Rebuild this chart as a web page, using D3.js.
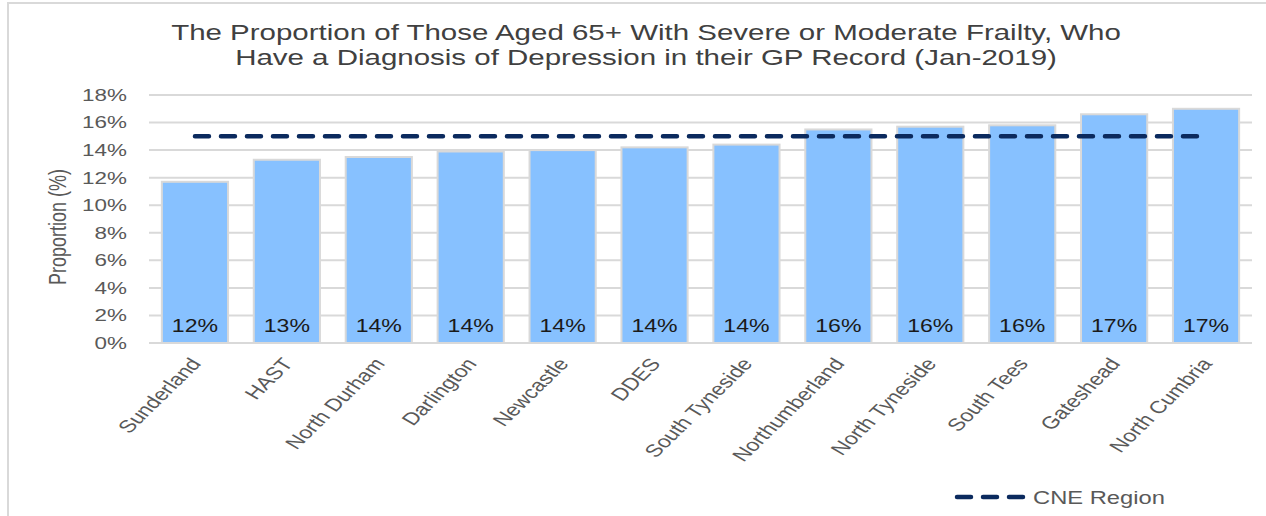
<!DOCTYPE html>
<html>
<head>
<meta charset="utf-8">
<script src="https://cdn.jsdelivr.net/npm/d3@7"></script>
<style>
  body { margin: 0; background: #fff; }
  svg { display: block; font-family: "Liberation Sans", Arial, sans-serif; }
</style>
</head>
<body>
<svg id="chart"></svg>
<script>
const areas = ["Sunderland", "HAST", "North Durham", "Darlington", "Newcastle", "DDES",
  "South Tyneside", "Northumberland", "North Tyneside", "South Tees", "Gateshead", "North Cumbria"];
const proportion = [11.7, 13.3, 13.5, 13.9, 14.0, 14.2, 14.4, 15.5, 15.7, 15.8, 16.6, 17.0];
const labels = ["12%", "13%", "14%", "14%", "14%", "14%", "14%", "16%", "16%", "16%", "17%", "17%"];
const cneRegion = [15, 15, 15, 15, 15, 15, 15, 15, 15, 15, 15, 15];
const yTicks = [0, 2, 4, 6, 8, 10, 12, 14, 16, 18];

const width = 1266;
const height = 516;
const S = 1.32; // the original picture is stretched sideways, so text is too
const svg = d3.select("#chart").attr("width", width).attr("height", height);

// outer frame (runs off the right/bottom edges)
svg.append("rect")
  .attr("x", 8).attr("y", 3)
  .attr("width", width + 10).attr("height", height + 10)
  .attr("fill", "none").attr("stroke", "#d9d9d9").attr("stroke-width", 2);

const xScale = d3.scaleBand()
  .domain(areas)
  .range([149, 1252])
  .paddingInner(0.28)
  .paddingOuter(0.14);

const yScale = d3.scaleLinear()
  .domain([0, 18])
  .range([343, 95]);

// gridlines
svg.append("g")
  .selectAll("line")
  .data(yTicks)
  .enter()
  .append("line")
  .attr("x1", 149).attr("x2", 1252)
  .attr("y1", (d) => yScale(d)).attr("y2", (d) => yScale(d))
  .attr("stroke", "#d9d9d9")
  .attr("stroke-width", 2);

// y axis labels
const yAxis = d3.axisLeft(yScale).tickValues(yTicks).tickFormat((d) => d + "%").tickSize(0);
const yg = svg.append("g").attr("transform", "translate(149,0)").call(yAxis);
yg.select(".domain").remove();
yg.selectAll("text")
  .attr("x", -22 / S)
  .attr("transform", "scale(" + S + ",1)")
  .attr("font-size", 17)
  .attr("fill", "#595959")
  .attr("font-family", "Liberation Sans, Arial, sans-serif");

// bars
svg.append("g")
  .selectAll("rect")
  .data(areas)
  .enter()
  .append("rect")
  .attr("x", (d) => xScale(d))
  .attr("y", (d, i) => yScale(proportion[i]))
  .attr("width", xScale.bandwidth())
  .attr("height", (d, i) => yScale(0) - yScale(proportion[i]))
  .attr("fill", "#87c1ff")
  .attr("stroke", "#d9d9d9")
  .attr("stroke-width", 2);

// bar value labels
svg.append("g")
  .selectAll("text")
  .data(areas)
  .enter()
  .append("text")
  .attr("transform", (d) => "translate(" + (xScale(d) + xScale.bandwidth() / 2) + ",332) scale(" + S + ",1)")
  .attr("text-anchor", "middle")
  .attr("font-size", 17.5)
  .attr("fill", "#1a1a1a")
  .text((d, i) => labels[i]);

// x axis baseline
svg.append("line")
  .attr("x1", 149).attr("x2", 1252)
  .attr("y1", yScale(0)).attr("y2", yScale(0))
  .attr("stroke", "#d9d9d9").attr("stroke-width", 2);

// x labels
const xAxis = d3.axisBottom(xScale).tickSize(0).tickPadding(0);
const xg = svg.append("g").attr("transform", "translate(0," + (yScale(0) + 1) + ")").call(xAxis);
xg.select(".domain").remove();
xg.selectAll("text")
  .attr("font-size", 17.5)
  .attr("fill", "#595959")
  .attr("font-family", "Liberation Sans, Arial, sans-serif")
  .attr("text-anchor", "end")
  .attr("y", 0)
  .attr("dy", 0)
  .attr("transform", "translate(7,20) scale(" + S + ",1) rotate(-52)");

// CNE region dashed line
const line = d3.line()
  .x((d, i) => xScale(areas[i]) + xScale.bandwidth() / 2)
  .y((d) => yScale(d));

svg.append("path")
  .datum(cneRegion)
  .attr("d", line)
  .attr("fill", "none")
  .attr("stroke", "#0b2a5e")
  .attr("stroke-width", 4.5)
  .attr("stroke-linecap", "round")
  .attr("stroke-dasharray", "14,12");

// title
const title = svg.append("g").attr("transform", "translate(646,0) scale(1.34,1)");
title.append("text").attr("x", 0).attr("y", 40)
  .attr("text-anchor", "middle").attr("font-size", 22).attr("fill", "#404040")
  .text("The Proportion of Those Aged 65+ With Severe or Moderate Frailty, Who");
title.append("text").attr("x", 0).attr("y", 65)
  .attr("text-anchor", "middle").attr("font-size", 22).attr("fill", "#404040")
  .text("Have a Diagnosis of Depression in their GP Record (Jan-2019)");

// y axis title
svg.append("text")
  .attr("transform", "translate(66,227) scale(" + S + ",1) rotate(-90)")
  .attr("text-anchor", "middle")
  .attr("font-size", 18)
  .attr("fill", "#595959")
  .text("Proportion (%)");

// legend
const legend = svg.append("g").attr("id", "legend");
legend.append("line")
  .attr("x1", 957).attr("x2", 1024)
  .attr("y1", 497).attr("y2", 497)
  .attr("stroke", "#0b2a5e")
  .attr("stroke-width", 4.5)
  .attr("stroke-linecap", "round")
  .attr("stroke-dasharray", "14,12");
legend.append("text")
  .attr("transform", "translate(1033,504) scale(" + S + ",1)")
  .attr("font-size", 18)
  .attr("fill", "#595959")
  .text("CNE Region");
</script>
</body>
</html>
